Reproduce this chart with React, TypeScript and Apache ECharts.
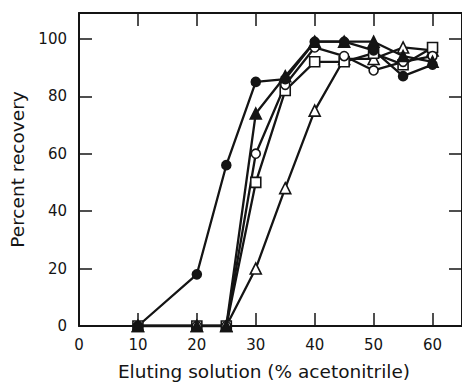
import React, { useEffect, useRef } from "react";
import * as echarts from "echarts";

const xValues = [10, 20, 25, 30, 35, 40, 45, 50, 55, 60];
const filledCircle = [0, 18, 56, 85, 86, 99, 99, 96, 87, 91];
const filledTriangle = [0, 0, 0, 74, 87, 99, 99, 99, 94, 92];
const openCircle = [0, 0, 0, 60, 84, 97, 94, 89, 92, 94];
const openSquare = [0, 0, 0, 50, 82, 92, 92, 95, 91, 97];
const openTriangle = [0, 0, 0, 20, 48, 75, 93, 93, 97, 96];

const xTicks = [0, 10, 20, 30, 40, 50, 60];
const yTicks = [0, 20, 40, 60, 80, 100];

const INK = "#141414";
const FONT = "DejaVu Sans";

function pairs(ys: number[]) {
  return xValues.map((x, i) => [x, ys[i]]);
}

export default function App() {
  const ref = useRef<HTMLDivElement>(null);
  useEffect(() => {
    if (!ref.current) return;
    const chart = echarts.init(ref.current, null, { renderer: "svg" });
    const axisCommon = {
      axisLine: { show: true, onZero: false, lineStyle: { color: INK, width: 2 } },
      axisTick: { show: true, inside: true, length: 13, lineStyle: { color: INK, width: 1.5 } },
      splitLine: { show: false },
    };
    const mkSeries = (name: string, data: number[], symbol: string, filled: boolean, size: number) => ({
      name,
      type: "line",
      data: pairs(data),
      symbol,
      symbolSize: size,
      showAllSymbol: true,
      lineStyle: { color: INK, width: 2.3 },
      itemStyle: { color: filled ? INK : "#ffffff", borderColor: INK, borderWidth: 1.6 },
      z: 3,
    });
    chart.setOption({
      animation: false,
      backgroundColor: "#ffffff",
      grid: { left: 79, top: 13, width: 389, height: 317 },
      xAxis: [
        {
          type: "value",
          min: 0,
          max: 65,
          interval: 10,
          position: "bottom",
          ...axisCommon,
          axisLabel: {
            show: true,
            color: INK,
            fontFamily: FONT,
            fontSize: 15,
            margin: 11,
            showMaxLabel: false,
            formatter: (v: number) => (xTicks.includes(v) ? String(v) : ""),
          },
          name: "Eluting solution (% acetonitrile)",
          nameLocation: "middle",
          nameGap: 36,
          nameTextStyle: { color: INK, fontFamily: FONT, fontSize: 18.5, padding: [0, 13, 0, 0] },
        },
        {
          type: "value",
          min: 0,
          max: 65,
          interval: 10,
          position: "top",
          ...axisCommon,
          axisLabel: { show: false },
        },
      ],
      yAxis: [
        {
          type: "value",
          min: 0,
          max: 109,
          interval: 20,
          position: "left",
          ...axisCommon,
          axisLabel: {
            show: true,
            color: INK,
            fontFamily: FONT,
            fontSize: 15,
            margin: 12,
            showMaxLabel: false,
            formatter: (v: number) => (yTicks.includes(v) ? String(v) : ""),
          },
          name: "Percent recovery",
          nameLocation: "middle",
          nameGap: 50,
          nameTextStyle: { color: INK, fontFamily: FONT, fontSize: 18.5 },
        },
        {
          type: "value",
          min: 0,
          max: 109,
          interval: 20,
          position: "right",
          ...axisCommon,
          axisLabel: { show: false },
        },
      ],
      series: [
        mkSeries("open triangle", openTriangle, "triangle", false, 11),
        mkSeries("open square", openSquare, "rect", false, 10),
        mkSeries("open circle", openCircle, "circle", false, 9),
        mkSeries("filled triangle", filledTriangle, "triangle", true, 11),
        mkSeries("filled circle", filledCircle, "circle", true, 9),
      ],
    });
    return () => chart.dispose();
  }, []);
  return <div ref={ref} style={{ width: 462, height: 386, position: "absolute", left: 0, top: 0 }} />;
}
